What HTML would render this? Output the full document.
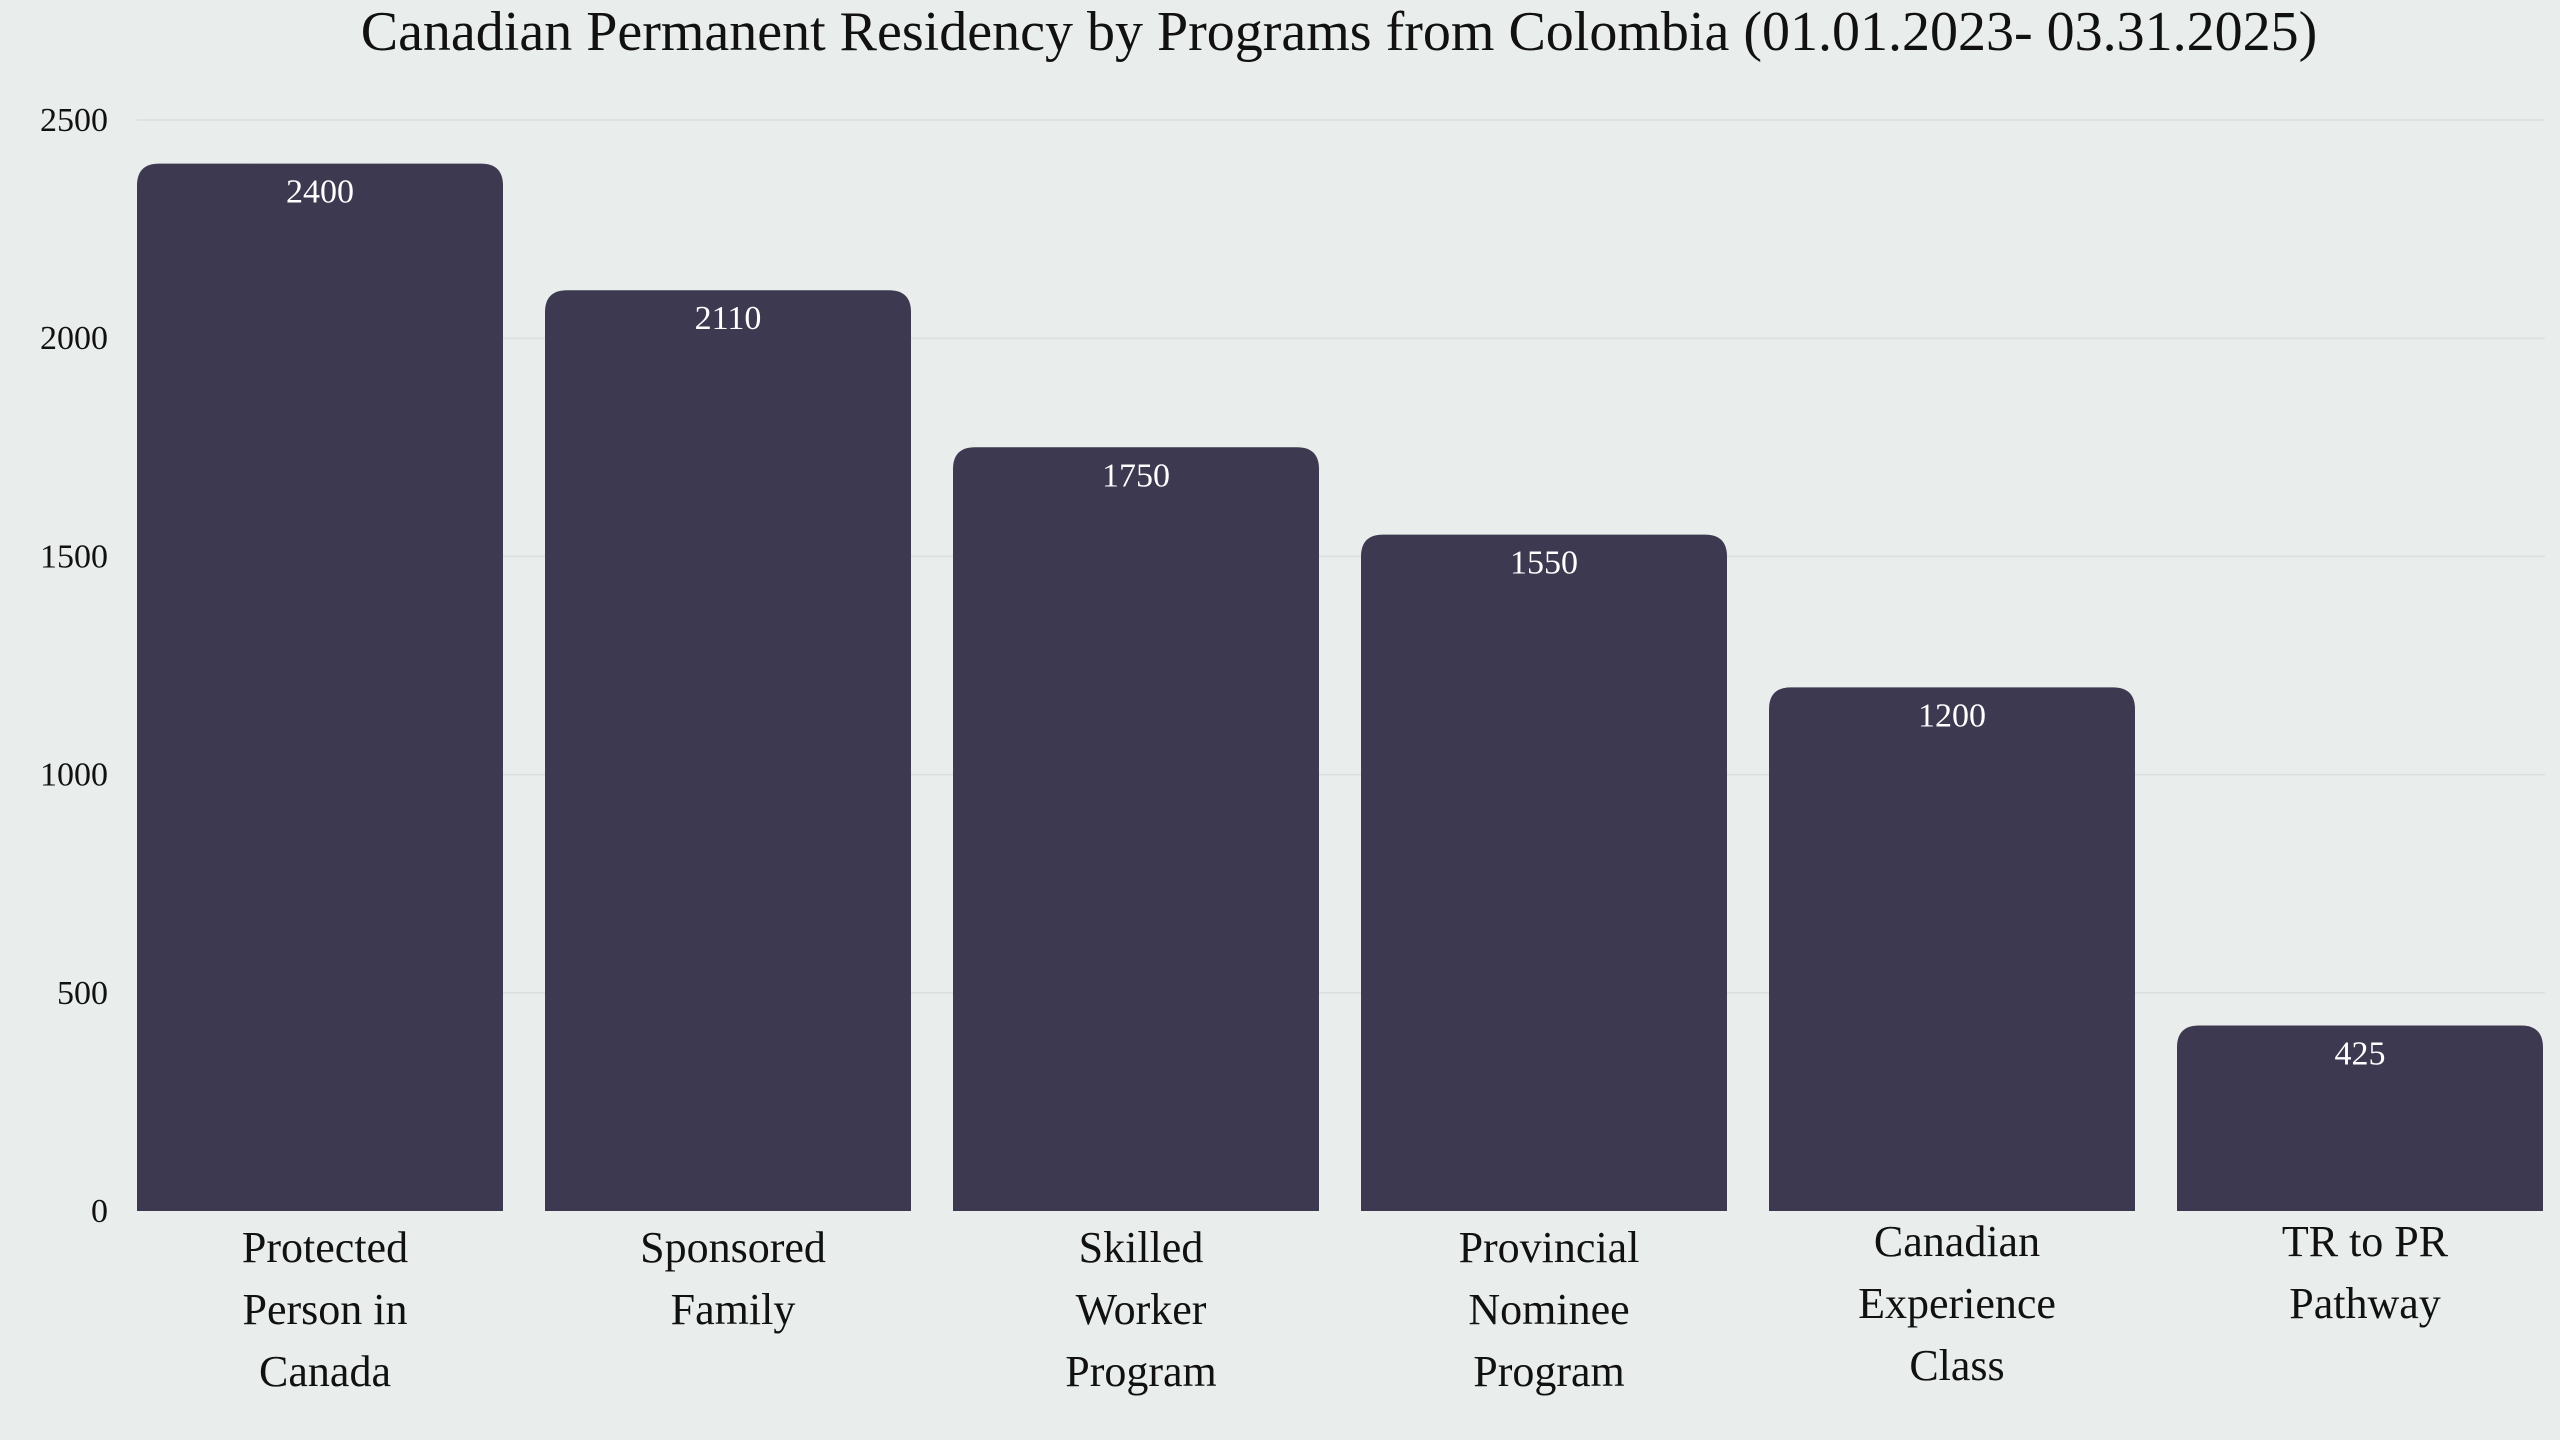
<!DOCTYPE html>
<html><head><meta charset="utf-8"><style>
html,body{margin:0;padding:0;background:#e9edeb;}
svg{display:block;font-family:"Liberation Serif",serif;}
</style></head><body>
<svg id="chart" width="2560" height="1440" viewBox="0 0 2560 1440">
<rect width="2560" height="1440" fill="#e9edeb"/>
<text x="1339" y="50" font-size="56" text-anchor="middle" fill="#111">Canadian Permanent Residency by Programs from Colombia (01.01.2023- 03.31.2025)</text>
<g id="grid"></g><g id="bars"></g><g id="labels"></g>
</svg>
<script>
const categories=[["Protected","Person in","Canada"],["Sponsored","Family"],["Skilled","Worker","Program"],["Provincial","Nominee","Program"],["Canadian","Experience","Class"],["TR to PR","Pathway"]];
const values=[2400,2110,1750,1550,1200,425];
const ticks=[0,500,1000,1500,2000,2500];
const NS="http://www.w3.org/2000/svg";
const y0=1211,yTop=120,maxV=2500;
const y=v=>y0-(y0-yTop)*v/maxV;
const step=408,x0=137,bw=366;
const x=i=>x0+i*step;
function mk(t,a,p){const e=document.createElementNS(NS,t);for(const k in a)e.setAttribute(k,a[k]);p.appendChild(e);return e;}
const grid=document.getElementById('grid'),bars=document.getElementById('bars'),labels=document.getElementById('labels');
ticks.forEach(t=>{
 if(t>0){const l=mk('line',{x1:137,x2:2545,y1:y(t),y2:y(t),stroke:'#dcdfdd','stroke-width':1.5},grid);
 
 }
 const tx=mk('text',{x:108,y:y(t)+11,'font-size':34,'text-anchor':'end',fill:'#111'},grid);
 tx.textContent=t;
 
 
});
values.forEach((v,i)=>{
 const r=22,X=x(i),Y=y(v),B=y0;
 const p=mk('path',{d:`M${X},${B}V${Y+r}Q${X},${Y} ${X+r},${Y}H${X+bw-r}Q${X+bw},${Y} ${X+bw},${Y+r}V${B}Z`,fill:'#3d3950'},bars);
 
 
 const t=mk('text',{x:X+bw/2,y:Y+39,'font-size':34,'text-anchor':'middle',fill:'#fff'},labels);
 t.textContent=v;
 
 
 const c=categories[i];
 const ct=mk('text',{x:X+bw/2+5,'font-size':44,'text-anchor':'middle',fill:'#111'},labels);
 
 
 const base=(i>=4)?1256:1262;
 c.forEach((s,j)=>{const ts=mk('tspan',{x:X+bw/2+5,y:base+j*62},ct);ts.textContent=s;});
});
</script>
</body></html>
